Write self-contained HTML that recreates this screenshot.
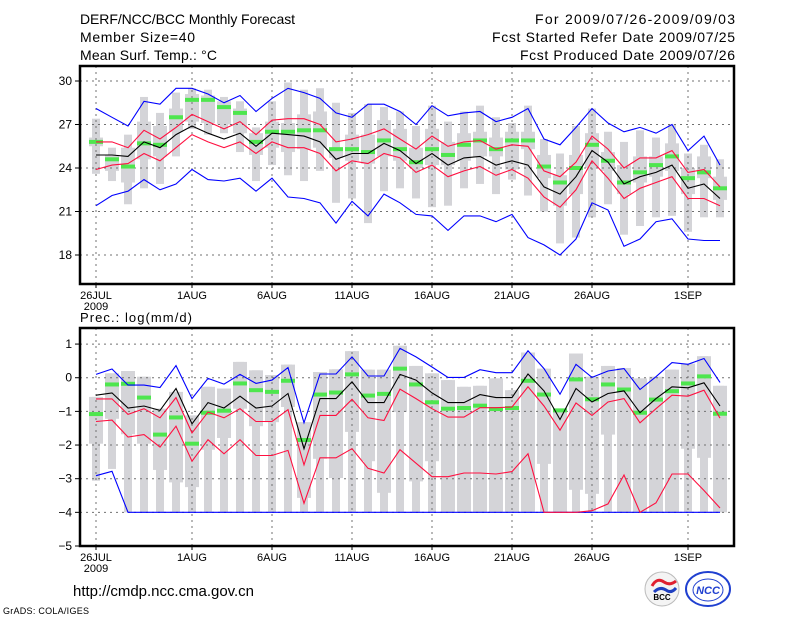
<!DOCTYPE html>
<html><head><meta charset="utf-8"><style>
html,body{margin:0;padding:0;background:#fff;width:800px;height:618px;overflow:hidden}
svg{display:block}
text{font-family:"Liberation Sans",sans-serif;fill:#000}
</style></head><body>
<svg id="chart" width="800" height="618" viewBox="0 0 800 618">
<text x="80" y="24" font-size="14" textLength="215">DERF/NCC/BCC Monthly Forecast</text>
<text x="80" y="42" font-size="14" textLength="115">Member Size=40</text>
<text x="80" y="60" font-size="14" textLength="137">Mean Surf. Temp.: °C</text>
<text x="735" y="24" font-size="14" text-anchor="end" textLength="200">For 2009/07/26-2009/09/03</text>
<text x="735" y="42" font-size="14" text-anchor="end" textLength="243">Fcst Started Refer Date 2009/07/25</text>
<text x="735" y="60" font-size="14" text-anchor="end" textLength="215">Fcst Produced Date 2009/07/26</text>
<text x="80" y="322" font-size="13" textLength="112">Prec.: log(mm/d)</text>
<text x="73" y="596" font-size="15" textLength="181">http://cmdp.ncc.cma.gov.cn</text>
<text x="3" y="614" font-size="9" textLength="86">GrADS: COLA/IGES</text>
<g>
<circle cx="662" cy="589" r="17" fill="#f4f4f4" stroke="#bbb"/>
<path d="M652 586 q5 -9 12 -4 q6 4 12 -1" stroke="#e02030" stroke-width="3" fill="none"/>
<path d="M654 592 q6 -6 12 -2 q5 4 10 -2" stroke="#2040c0" stroke-width="3" fill="none"/>
<text x="662" y="600" font-size="8" font-weight="bold" text-anchor="middle" font-family="Liberation Serif">BCC</text>
</g>
<g>
<ellipse cx="708" cy="589" rx="22" ry="17" fill="#fff" stroke="#2040d0" stroke-width="2"/>
<ellipse cx="708" cy="590" rx="15" ry="11" fill="none" stroke="#2040d0"/>
<text x="708" y="594" font-size="11" font-weight="bold" font-style="italic" text-anchor="middle" fill="#2040d0" style="fill:#2040d0">NCC</text>
</g>
</svg>
<script>
const days = 40;
const xLabels = ["26JUL","1AUG","6AUG","11AUG","16AUG","21AUG","26AUG","1SEP"];
const xLabelDays = [0,6,11,16,21,26,31,37];
const topTicks = [18,21,24,27,30];
const botTicks = [-5,-4,-3,-2,-1,0,1];

const tMax = [28.1,27.5,26.9,28.6,28.4,29.5,29.5,29.1,28.5,29.0,27.9,28.8,29.5,29.2,28.8,27.8,27.5,28.4,28.4,27.9,27.0,28.3,27.6,27.8,27.9,27.2,27.5,28.1,26.0,25.6,26.8,28.1,27.1,26.5,26.8,26.4,27.0,25.2,26.2,24.2];
const tMin = [21.4,22.1,22.4,23.2,22.5,22.9,23.9,23.2,23.1,23.3,22.4,23.3,22.0,21.9,21.6,20.2,21.7,20.7,22.2,21.6,20.8,20.7,19.7,20.7,20.7,20.3,20.8,19.2,18.7,18.0,19.1,21.6,21.1,18.6,19.1,20.3,20.5,19.1,19.0,19.0];
const tRedHi = [25.8,25.8,25.4,26.6,26.0,26.8,27.7,27.2,26.7,27.2,26.3,27.3,27.4,27.4,27.0,25.8,26.0,26.3,26.7,26.0,25.3,26.2,25.5,25.8,25.9,25.3,25.6,25.5,23.8,23.4,24.4,26.2,25.3,24.0,24.7,24.7,25.2,23.7,23.9,22.7];
const tRedLo = [23.9,24.2,24.3,25.0,24.5,25.4,26.3,25.8,25.4,25.8,25.0,25.8,25.4,25.4,25.0,23.8,24.5,24.3,25.0,24.7,23.7,24.2,23.4,23.8,24.1,23.5,23.9,23.3,22.0,21.3,22.5,24.5,23.3,21.9,22.6,23.0,23.4,21.9,21.9,21.4];
const tMean = [24.9,24.9,24.8,25.8,25.4,26.3,26.9,26.4,26.0,26.4,25.5,26.4,26.3,26.2,25.8,24.6,25.0,25.0,25.7,25.2,24.3,25.0,24.2,24.7,24.8,24.2,24.5,24.2,22.7,22.2,23.4,25.2,24.4,22.9,23.4,23.7,24.2,22.6,22.9,21.9];
const tObs = [25.8,24.6,24.1,25.7,25.6,27.5,28.7,28.7,28.2,27.8,25.8,26.5,26.5,26.6,26.6,25.3,25.3,25.1,25.9,25.3,24.4,25.3,24.9,25.6,25.9,25.3,25.9,25.9,24.1,23.0,24.0,25.6,24.5,23.0,23.7,24.2,24.8,23.3,23.7,22.6];
const tWhiskHi = [27.4,25.4,26.3,28.9,27.8,29.2,29.5,29.4,28.9,28.6,26.8,28.6,29.9,29.4,29.5,28.5,27.8,28.4,28.2,27.9,26.9,28.3,27.2,27.9,28.3,27.5,27.1,28.3,26.0,25.0,26.9,28.1,26.5,25.8,26.6,26.1,27.0,25.0,25.6,24.6];
const tBoxHi = [26.1,24.9,25.4,27.2,26.9,28.1,29.1,29.0,28.6,28.1,26.4,27.2,27.1,27.7,27.9,25.4,26.3,26.3,27.3,26.7,25.4,26.7,25.8,26.4,26.5,26.1,26.5,26.5,24.9,23.5,24.9,26.4,25.1,24.2,24.8,24.8,25.7,24.0,24.8,23.4];
const tBoxLo = [25.5,23.8,23.0,24.6,24.8,26.5,27.2,27.1,27.0,26.4,24.9,25.4,25.1,25.3,25.4,24.7,24.5,24.3,24.8,24.5,24.0,24.2,24.2,24.5,24.8,24.8,23.9,25.3,23.3,21.4,22.2,24.0,23.8,22.2,23.0,23.4,23.8,22.2,23.3,21.8];
const tWhiskLo = [23.6,23.1,21.5,22.6,22.9,24.8,26.7,26.3,26.4,25.1,23.1,24.2,23.5,23.1,23.8,21.6,21.9,20.2,22.4,22.6,21.9,21.3,21.4,22.6,22.9,22.2,23.2,22.1,21.0,18.8,19.2,20.6,21.5,19.4,20.0,20.6,20.7,19.6,20.6,20.6];

const pMax = [0.10,0.26,-0.22,-0.22,-0.29,0.36,-0.62,-0.02,-0.19,0.10,-0.17,-0.07,0.30,-1.34,0.11,0.11,0.62,0.05,0.05,0.87,0.62,0.32,0.01,0.01,0.24,0.15,0.15,0.80,0.27,-0.49,0.40,0.01,0.20,0.27,-0.35,0.03,0.45,0.40,0.57,-0.14];
const pMin = [-2.91,-2.78,-4,-4,-4,-4,-4,-4,-4,-4,-4,-4,-4,-4,-4,-4,-4,-4,-4,-4,-4,-4,-4,-4,-4,-4,-4,-4,-4,-4,-4,-4,-4,-4,-4,-4,-4,-4,-4,-4];
const pRedHi = [-0.63,-0.63,-1.09,-0.92,-1.19,-0.59,-1.64,-1.02,-1.19,-0.92,-1.30,-1.30,-0.95,-2.59,-1.12,-1.12,-0.64,-1.19,-1.27,-0.34,-0.62,-0.92,-1.17,-1.17,-0.89,-0.89,-0.87,-0.27,-0.84,-1.56,-0.75,-1.12,-0.72,-0.62,-1.34,-0.92,-0.52,-0.55,-0.37,-1.20];
const pRedLo = [-1.30,-1.26,-1.76,-1.69,-2.06,-1.44,-2.48,-1.84,-2.26,-1.84,-2.31,-2.31,-2.16,-3.73,-2.38,-2.38,-2.11,-2.69,-2.83,-2.14,-2.54,-2.94,-2.94,-2.83,-2.83,-2.86,-2.79,-2.26,-4,-4,-4,-3.95,-3.75,-2.89,-4,-3.72,-2.86,-2.86,-3.35,-3.87];
const pMean = [-0.52,-0.45,-0.90,-0.84,-0.97,-0.32,-1.37,-0.74,-0.90,-0.55,-0.90,-0.84,-0.47,-2.11,-0.62,-0.62,-0.12,-0.74,-0.74,0.10,-0.07,-0.45,-0.74,-0.74,-0.50,-0.59,-0.59,0.11,-0.39,-1.24,-0.32,-0.72,-0.47,-0.39,-1.04,-0.62,-0.27,-0.30,-0.15,-0.84];
const pObs = [-1.08,-0.20,-0.18,-0.59,-1.69,-1.18,-1.96,-1.04,-0.98,-0.17,-0.37,-0.42,-0.09,-1.85,-0.50,-0.44,0.10,-0.53,-0.48,0.27,-0.20,-0.73,-0.92,-0.90,-0.83,-0.93,-0.90,-0.09,-0.50,-0.97,-0.05,-0.64,-0.20,-0.35,-1.04,-0.65,-0.40,-0.17,0.04,-1.07];
const pBoxHi = [-0.57,0.13,0.20,0.03,-0.92,-0.42,-1.12,-0.27,-0.32,0.47,0.22,0.08,0.39,-1.32,0.17,0.25,0.79,0.24,0.24,0.95,0.35,0.13,-0.07,-0.27,-0.24,-0.02,-0.37,0.75,0.27,-0.97,0.72,0.03,0.35,0.29,-0.02,0.03,0.24,0.42,0.64,-0.24];
const pBoxLo = [-1.96,-1.22,-1.68,-1.96,-2.74,-3.11,-3.25,-2.14,-1.79,-0.92,-1.44,-1.32,-0.87,-3.57,-2.41,-2.98,-1.61,-2.48,-3.42,-1.02,-3.08,-2.48,-4,-4,-4,-4,-4,-4,-2.56,-4,-3.33,-3.45,-1.69,-4,-4,-4,-4,-2.11,-2.38,-4];
const pWhiskLo = [-3.06,-2.71,-4,-4,-4,-4,-4,-4,-4,-4,-4,-4,-4,-4,-4,-4,-4,-4,-4,-4,-4,-4,-4,-4,-4,-4,-4,-4,-4,-4,-4,-4,-4,-4,-4,-4,-4,-4,-4,-4];

const NS = "http://www.w3.org/2000/svg";
const svg = document.getElementById("chart");
function mk(tag, attrs, parent){const e=document.createElementNS(NS,tag);for(const k in attrs)e.setAttribute(k,attrs[k]);(parent||svg).appendChild(e);return e;}
const X0 = 80, X1 = 734;
function xOf(d){return 96 + d*16;}

function panel(name, top, bottom, vTop, vBot, ticks, whHi, bxHi, bxLo, whLo, obs, redHi, redLo, mean, vmax, vmin){
  const g = mk("g", {});
  
  
  const y = v => top + (vTop - v) / (vTop - vBot) * (bottom - top);
  // boxes
  for(let d=0; d<days; d++){
    const x = xOf(d);
    const w = mk("rect", {x:x-4, y:y(whHi[d]), width:8, height:Math.max(0,y(whLo[d])-y(whHi[d])), fill:"#d4d4d8"}, g);
    
    
    const b = mk("rect", {x:x-7, y:y(bxHi[d]), width:14, height:Math.max(0,y(bxLo[d])-y(bxHi[d])), fill:"#d4d4d8"}, g);
    
    
  }
  // grid
  ticks.forEach(t=>{
    const yy = y(t);
    const l = mk("line", {x1:X0, x2:X1, y1:yy, y2:yy, stroke:"#707070", "stroke-dasharray":"2,4"}, g);
    
    
    mk("line", {x1:X0-5, x2:X0, y1:yy, y2:yy, stroke:"#000"}, g);
    const tx = mk("text", {x:X0-8, y:yy+4, "font-size":"12", "text-anchor":"end"}, g);
    tx.textContent = t < 0 ? "\u2212" + Math.abs(t) : String(t);
    
    
  });
  xLabelDays.forEach((d,i)=>{
    const xx = xOf(d);
    const l = mk("line", {x1:xx, x2:xx, y1:top, y2:bottom, stroke:"#707070", "stroke-dasharray":"2,4"}, g);
    
    
    mk("line", {x1:xx, x2:xx, y1:bottom, y2:bottom+4, stroke:"#000"}, g);
    const tx = mk("text", {x:xx, y:bottom+15, "font-size":"11", "text-anchor":"middle"}, g);
    tx.textContent = xLabels[i];
    
    
  });
  const yr = mk("text", {x:xOf(0), y:bottom+26, "font-size":"11", "text-anchor":"middle"}, g);
  yr.textContent = "2009";
  
  
  // obs marks
  for(let d=0; d<days; d++){
    const m = mk("rect", {x:xOf(d)-7, y:y(obs[d])-2, width:14, height:4, fill:"#4ee64e"}, g);
    
    
  }
  const line = (arr, col, nm) => {
    const p = mk("polyline", {points: arr.map((v,d)=>xOf(d)+","+y(v).toFixed(1)).join(" "), fill:"none", stroke:col, "stroke-width":"1.1"}, g);
    
    
  };
  line(vmax, "#0000ff", "ensemble-max-line");
  line(vmin, "#0000ff", "ensemble-min-line");
  line(redHi, "#ff1040", "upper-spread-line");
  line(redLo, "#ff1040", "lower-spread-line");
  line(mean, "#000000", "ensemble-mean-line");
  const f = mk("rect", {x:X0, y:top, width:X1-X0, height:bottom-top, fill:"none", stroke:"#000", "stroke-width":"2.5"}, g);
  
  
}
panel("temperature-panel", 66, 284, 30 + 15/14.5, 30 - 203/14.5, topTicks, tWhiskHi, tBoxHi, tBoxLo, tWhiskLo, tObs, tRedHi, tRedLo, tMean, tMax, tMin);
panel("precip-panel", 328, 546, 1 + 16/33.5, -5, botTicks, pBoxHi, pBoxHi, pBoxLo, pWhiskLo, pObs, pRedHi, pRedLo, pMean, pMax, pMin);
</script>
</body></html>
